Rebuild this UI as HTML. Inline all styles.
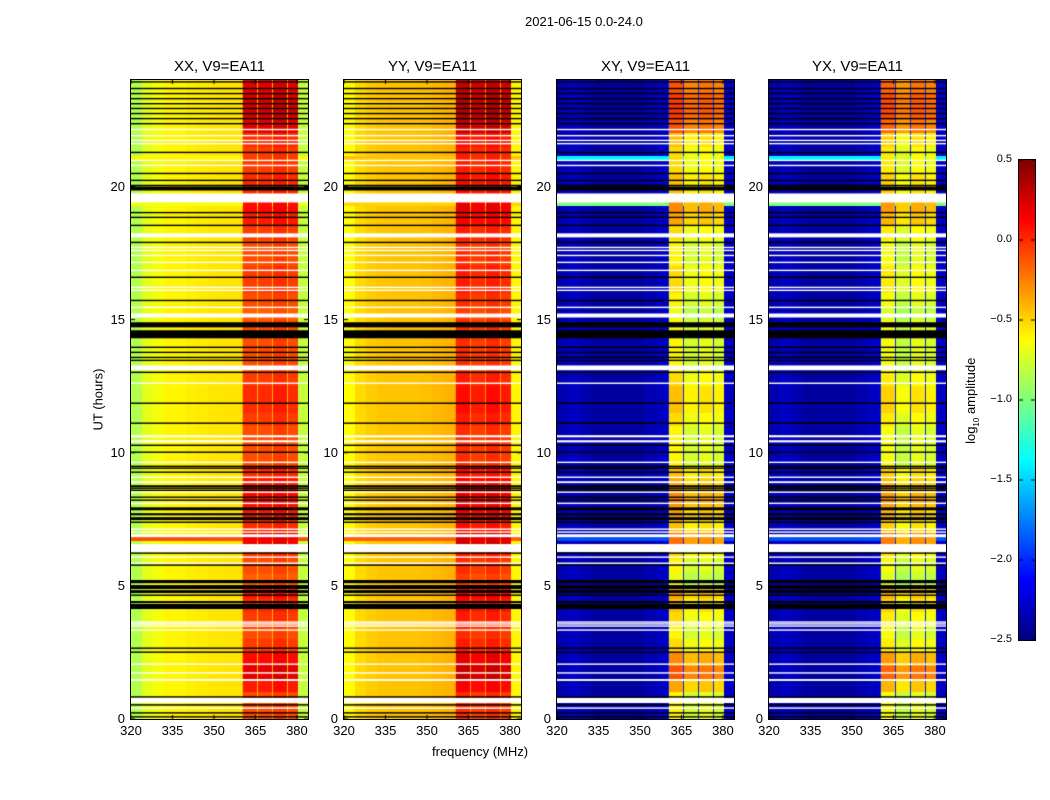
<!DOCTYPE html>
<html><head><meta charset="utf-8"><style>
body{margin:0;background:#fff;width:1050px;height:800px;overflow:hidden;font-family:"Liberation Sans",sans-serif;}
#root{position:relative;width:1050px;height:800px;}
.t{position:absolute;font-size:13px;color:#000;white-space:nowrap;}
canvas{position:absolute;}
.frame{position:absolute;border:1px solid #000;box-sizing:border-box;}
</style></head><body>
<div id="root">
<div class="t" style="left:525px;top:14px;font-size:13px">2021-06-15 0.0-24.0</div>
<div class="t" style="left:52px;top:392px;transform:rotate(-90deg);transform-origin:center;width:92px;text-align:center">UT (hours)</div>
<div class="t" style="left:432px;top:744px">frequency (MHz)</div>
<canvas id="cb" width="16" height="480" style="left:1019px;top:160px"></canvas>
<div class="frame" style="left:1018px;top:159px;width:18px;height:482px"></div>
<div class="t" style="left:912px;top:392px;transform:rotate(-90deg);width:120px;text-align:center">log<sub style="font-size:8px">10</sub> amplitude</div>
</div>
<script>
// ---- data ----
const panelTitles=["XX, V9=EA11","YY, V9=EA11","XY, V9=EA11","YX, V9=EA11"];
const xTicks=[320,335,350,365,380];
const yTicks=[0,5,10,15,20];
const cbTicks=[0.5,0.0,-0.5,-1.0,-1.5,-2.0,-2.5];
// base spectrum in 4 MHz bins, 320..384
const baseXX=[-0.85,-0.7,-0.65,-0.6,-0.6,-0.58,-0.57,-0.56,-0.55,-0.55,-0.4,-0.4,-0.4,-0.4,-0.4,-0.8];
const baseYY=[-0.62,-0.52,-0.48,-0.46,-0.45,-0.45,-0.45,-0.44,-0.42,-0.4,-0.3,-0.3,-0.3,-0.3,-0.3,-0.6];
const baseXY=[-2.35,-2.3,-2.35,-2.4,-2.4,-2.4,-2.4,-2.4,-2.35,-2.3,-2.0,-2.0,-2.0,-2.0,-2.0,-2.3];
const baseYX=[-2.35,-2.3,-2.35,-2.4,-2.4,-2.4,-2.4,-2.4,-2.35,-2.3,-2.0,-2.0,-2.0,-2.0,-2.0,-2.3];
const bandStart=[360.5,365.9,371.4,376.8];
const bandEnd=[365.5,371.0,376.4,380.5];
const bandXX=[-0.1,-0.1,-0.05,-0.1];
const bandYY=[0.0,-0.05,0.0,-0.05];
const bandXY=[-0.6,-0.75,-0.7,-0.75];
const bandYX=[-0.65,-0.8,-0.7,-0.75];
const bandGain=[1,1,1.6,1.6];
// band level offsets per half hour 0..24
const bandOff=[0,0,0.15,0.3,0.2,0.05,0,0.05,0.1,0.15,-0.05,0,0.05,0.25,0.1,0.15,0.2,0.15,0.1,0,0,0,0.05,0.1,0.1,0.05,0,0,0,0,-0.05,0,0.05,0.05,0,0,0.05,0.15,0.2,0.1,0.1,0.05,0.05,0.1,0.3,0.35,0.35,0.3];
// whole-row events
const evStart=[6.7,19.25,20.95];
const evEnd=[6.82,19.4,21.15];
const evXX=[-0.1,-0.65,-0.6];
const evYY=[-0.15,-0.5,-0.45];
const evXY=[-1.9,-1.0,-1.4];
const evYX=[-1.9,-1.0,-1.4];
// flags (hours)
const blackLines=[23.93,23.68,23.49,23.30,23.11,22.93,22.74,22.55,22.36,21.28,20.49,20.23,20.04,19.02,18.84,18.54,17.90,16.59,15.72,13.96,13.77,13.58,13.47,13.02,11.86,11.11,10.28,10.02,9.49,9.42,9.27,8.67,8.59,8.33,8.22,7.39,6.23,5.78,4.65,2.66,2.51,0.83,0.53,0.23,0.08];
const blackStart=[19.85,14.71,14.30,8.71,7.84,7.65,7.47,5.10,4.88,4.73,4.35,4.13];
const blackEnd=[20.0,14.90,14.60,8.78,7.95,7.73,7.58,5.22,5.03,4.84,4.43,4.32];
const whiteLines=[22.14,21.91,21.73,21.61,20.98,20.79,17.71,17.60,17.41,17.15,16.85,16.21,16.10,15.46,12.61,9.64,9.08,8.52,8.10,7.13,7.02,6.08,5.85,3.64,3.57,3.49,3.34,2.06,1.73,0.41];
const whiteStart=[19.40,18.09,15.08,13.10,10.58,10.39,8.86,6.83,6.27,1.43,0.60];
const whiteEnd=[19.74,18.24,15.23,13.28,10.66,10.47,8.93,6.94,6.57,1.50,0.79];

const bases=[baseXX,baseYY,baseXY,baseYX];
const bands=[bandXX,bandYY,bandXY,bandYX];
const evs=[evXX,evYY,evXY,evYX];
const panelX=[131,344,557,769];
const PW=177,PT=80,PB=719,F0=320,F1=384,VMIN=-2.5,VMAX=0.5;
function fx(f){return (f-F0)/(F1-F0)*PW;}
function ty(t){return (PB-PT)-(t/24)*(PB-PT);}
function clamp(v){return Math.max(0,Math.min(1,v));}
function jet(v){const x=clamp((v-VMIN)/(VMAX-VMIN));
 const r=clamp(Math.min(4*x-1.5,-4*x+4.5)),g=clamp(Math.min(4*x-0.5,-4*x+3.5)),b=clamp(Math.min(4*x+0.5,-4*x+2.5));
 return [r*255|0,g*255|0,b*255|0];}
const root=document.getElementById('root');
function addText(txt,l,t,name,extra){const d=document.createElement('div');d.className='t';d.textContent=txt;
 d.style.left=l+'px';d.style.top=t+'px';if(extra)Object.assign(d.style,extra);
 
 
 root.appendChild(d);return d;}
for(let p=0;p<4;p++){
 const cv=document.createElement('canvas');cv.width=PW;cv.height=PB-PT;
 cv.style.left=panelX[p]+'px';cv.style.top=PT+'px';
 
 
 root.appendChild(cv);
 const ctx=cv.getContext('2d');const img=ctx.createImageData(PW,PB-PT);
 for(let y=0;y<PB-PT;y++){
  const t=24*(1-(y+0.5)/(PB-PT));
  const bo=bandOff[Math.min(47,Math.floor(t*2))]*bandGain[p];
  let ev=null;for(let e=0;e<evStart.length;e++)if(t>=evStart[e]&&t<evEnd[e])ev=evs[p][e];
  for(let x=0;x<PW;x++){
   const f=F0+(x+0.5)/PW*(F1-F0);
   let v=bases[p][Math.min(15,Math.floor((f-F0)/4))];
   let inBand=false;
   for(let b=0;b<4;b++)if(f>=bandStart[b]&&f<bandEnd[b]){v=bands[p][b]+bo;inBand=true;}
   if(ev!==null&&!inBand)v=ev;
   const c=jet(v);const i=(y*PW+x)*4;img.data[i]=c[0];img.data[i+1]=c[1];img.data[i+2]=c[2];img.data[i+3]=255;}
 }
 ctx.putImageData(img,0,0);
 ctx.fillStyle='#000';
 blackLines.forEach(t=>ctx.fillRect(0,ty(t)-0.7,PW,1.4));
 blackStart.forEach((s,i)=>ctx.fillRect(0,ty(blackEnd[i]),PW,ty(s)-ty(blackEnd[i])));
 ctx.fillStyle='#fff';
 whiteLines.forEach(t=>ctx.fillRect(0,ty(t)-0.7,PW,1.4));
 whiteStart.forEach((s,i)=>ctx.fillRect(0,ty(whiteEnd[i]),PW,ty(s)-ty(whiteEnd[i])));
 ctx.fillStyle='#000';
 xTicks.forEach(v=>{ctx.fillRect(fx(v)-0.5,PB-PT-4,1,4);ctx.fillRect(fx(v)-0.5,0,1,4);});
 yTicks.forEach(v=>{ctx.fillRect(0,ty(v)-0.5,4,1);ctx.fillRect(PW-4,ty(v)-0.5,4,1);});
 const fr=document.createElement('div');fr.className='frame';
 fr.style.left=(panelX[p]-1)+'px';fr.style.top=(PT-1)+'px';fr.style.width=(PW+2)+'px';fr.style.height=(PB-PT+2)+'px';
 
 
 root.appendChild(fr);
 addText(panelTitles[p],panelX[p],58,'panel-title',{width:PW+'px',textAlign:'center',fontSize:'15px'});
 xTicks.forEach(v=>addText(String(v),panelX[p]+fx(v)-20,723,'x-tick-label',{width:'40px',textAlign:'center'}));
 yTicks.forEach(v=>addText(String(v),panelX[p]-40,PT+ty(v)-8,'y-tick-label',{width:'34px',textAlign:'right'}));
}
// colorbar
const cb=document.getElementById('cb').getContext('2d');
for(let y=0;y<480;y++){const c=jet(VMAX-(y+0.5)/480*(VMAX-VMIN));cb.fillStyle=`rgb(${c[0]},${c[1]},${c[2]})`;cb.fillRect(0,y,16,1);}
cb.fillStyle='#000';
cbTicks.forEach(v=>{const yy=(VMAX-v)/(VMAX-VMIN)*480;cb.fillRect(0,yy-0.5,4,1);cb.fillRect(12,yy-0.5,4,1);});
cbTicks.forEach(v=>{const y=160+(VMAX-v)/(VMAX-VMIN)*480;
 addText((v<0?'\u2212':'')+Math.abs(v).toFixed(1),970,y-7,'colorbar-tick-label',{width:'42px',textAlign:'right',fontSize:'11px'});});
</script>
</body></html>
